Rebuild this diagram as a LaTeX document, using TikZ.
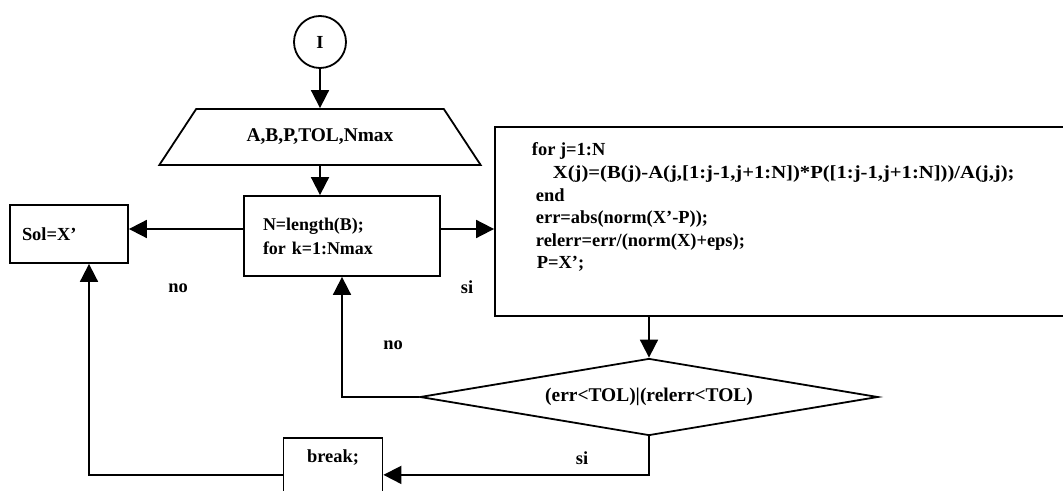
\documentclass[tikz,border=0pt]{standalone}
\usepackage{fontspec}
\setmainfont{Liberation Serif}
\usetikzlibrary{arrows.meta,shapes.geometric}
\begin{document}
\begin{tikzpicture}[x=1bp,y=-1bp,
  font=\fontsize{18.5}{23}\selectfont\bfseries,
  line width=1.8bp,
  arr/.style={-{Triangle[length=18bp,width=18bp]}},
  box/.style={draw,rectangle,inner sep=0pt},
  lbl/.style={inner sep=0pt},
  bigfont/.style={font=\fontsize{19.5}{23}\selectfont\bfseries},
  codefont/.style={font=\fontsize{18.5}{22.7}\selectfont\bfseries}]
\useasboundingbox (0,0) rectangle (1063,491);
\clip (0,0) rectangle (1063,491);
% nodes
\node[draw,circle,minimum size=52bp,inner sep=0pt] (I) at (320,42) {I};
\node[draw,trapezium,trapezium angle=36,trapezium stretches=true,
      minimum width=322bp,minimum height=56bp,inner sep=0pt,bigfont] (in) at (320,137) {A,B,P,TOL,Nmax};
\node[box,minimum width=196bp,minimum height=80bp,text width=158bp,align=left,
      font=\fontsize{18}{23}\selectfont\bfseries] (N) at (342,236)
  {N=length(B);\\[1bp]for k=1:Nmax};
\node[box,minimum width=118bp,minimum height=58bp,text width=94bp,align=left] (Sol) at (69,234) {Sol=X’};
\node[box,minimum width=600bp,minimum height=189bp] (big) at (795,221.5) {};
\node[lbl,anchor=north west,align=left,codefont] (code) at (531,142)
  {for j=1:N\\
   \hspace*{21bp}\scalebox{1.12}[1]{X(j)=(B(j)-A(j,[1:j-1,j+1:N])*P([1:j-1,j+1:N]))/A(j,j);}\\
   \hspace*{4bp}end\\
   \hspace*{4bp}err=abs(norm(X’-P));\\
   \hspace*{4bp}relerr=err/(norm(X)+eps);\\
   \hspace*{5bp}P=X’;};
\node[draw,diamond,aspect=6,minimum width=458bp,minimum height=77bp,inner sep=0pt,bigfont] (D) at (649,397)
  {(err<TOL)|(relerr<TOL)};
\node[box,minimum width=99bp,minimum height=74bp,anchor=north] (brk) at (333,437) {};
\node[lbl] (brkt) at (333,458) {break;};
% labels
\node[lbl] (no1) at (178,288) {no};
\node[lbl] (si1) at (467,287) {si};
\node[lbl] (no2) at (393,345) {no};
\node[lbl] (si2) at (582,458) {si};
% connectors
\draw[arr] (I.south) -- (in.north);
\draw[arr] (in.south) -- (in.south |- N.north);
\draw[arr] ([yshift=7bp]N.west) -- ([yshift=7bp]N.west -| Sol.east);
\draw[arr] ([yshift=7bp]N.east) -- ([yshift=7bp]N.east -| big.west);
\draw[arr] (big.south -| D.north) -- (D.north);
\draw[arr] (D.west) -| (N.south);
\draw[arr] (D.south) |- (brk.east);
\draw[arr] (brk.west) -| ([xshift=20bp]Sol.south);
\end{tikzpicture}
\end{document}
